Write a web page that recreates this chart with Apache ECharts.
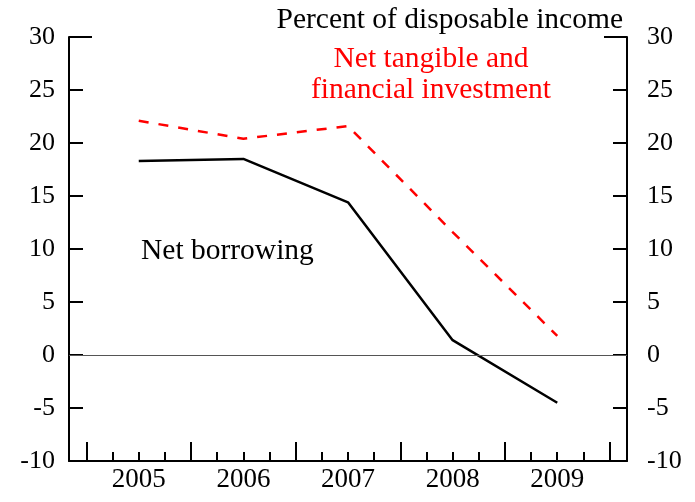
<!DOCTYPE html>
<html>
<head>
<meta charset="utf-8">
<script src="https://cdn.jsdelivr.net/npm/echarts@6/dist/echarts.min.js"></script>
<style>html,body{margin:0;padding:0;background:#fff}#c{width:695px;height:502px}</style>
</head>
<body>
<div id="c"></div>
<script>
// ---- data ----
var years = [2005, 2006, 2007, 2008, 2009];
var netBorrowing = [18.3, 18.5, 14.4, 1.4, -4.5];
var netInvestment = [22.1, 20.4, 21.6, 11.6, 1.8];
var yTicks = [-10, -5, 0, 5, 10, 15, 20, 25, 30];

var FONT = '"Liberation Serif", "Times New Roman", serif';
var xMin = years[0] - 1 / 6;
var xMax = years[years.length - 1] + 1 + 1 / 6;
var majorTicks = years.concat([years[years.length - 1] + 1]);
var labelPos = years.map(function (y) { return y + 0.5; });
var minorTicks = [];
years.forEach(function (y) { [0.25, 0.5, 0.75].forEach(function (q) { minorTicks.push(y + q); }); });

function pts(vals) { return vals.map(function (v, i) { return [years[i] + 0.5, v]; }); }

function yAx(pos, showLabel, tickVals, len, margin) {
  return {
    type: 'value', position: pos, min: yTicks[0], max: yTicks[yTicks.length - 1], interval: 5,
    axisLine: { show: showLabel, onZero: false, lineStyle: { color: '#000', width: 2 } },
    axisTick: { show: true, inside: true, length: len, customValues: tickVals, lineStyle: { color: '#000', width: 2 } },
    axisLabel: { show: showLabel, margin: margin, color: '#000', fontSize: 26, fontFamily: FONT },
    splitLine: { show: false }
  };
}

var chart = echarts.init(document.getElementById('c'), null, { renderer: 'canvas' });
chart.setOption({
  animation: false,
  grid: { left: 69, right: 68, top: 37, bottom: 41 },
  title: [
    { text: 'Percent of disposable income', right: 67, top: 0,
      textStyle: { fontFamily: FONT, fontSize: 29.5, fontWeight: 'normal', color: '#000' } },
    { text: 'Net tangible and\nfinancial investment', left: 426, top: 39, textAlign: 'center',
      textStyle: { fontFamily: FONT, fontSize: 29.5, fontWeight: 'normal', color: '#ff0000', lineHeight: 31, align: 'center' } },
    { text: 'Net borrowing', left: 136, top: 231,
      textStyle: { fontFamily: FONT, fontSize: 29.5, fontWeight: 'normal', color: '#000' } }
  ],
  xAxis: [
    { type: 'value', position: 'bottom', min: xMin, max: xMax,
      axisLine: { show: true, onZero: false, lineStyle: { color: '#000', width: 2 } },
      axisTick: { show: true, inside: true, length: 19, customValues: majorTicks, lineStyle: { color: '#000', width: 2 } },
      axisLabel: { show: true, customValues: labelPos, margin: 5, color: '#000', fontSize: 27, fontFamily: FONT,
        formatter: function (v) { return String(Math.floor(v)); } },
      splitLine: { show: false } },
    { type: 'value', position: 'bottom', min: xMin, max: xMax,
      axisLine: { show: false, onZero: false },
      axisTick: { show: true, inside: true, length: 9, customValues: minorTicks, lineStyle: { color: '#000', width: 2 } },
      axisLabel: { show: false }, splitLine: { show: false } }
  ],
  yAxis: [
    yAx('left', true, yTicks, 14, 14),
    yAx('right', true, yTicks, 14, 20),
    yAx('left', false, [yTicks[yTicks.length - 1]], 23, 0),
    yAx('right', false, [yTicks[yTicks.length - 1]], 23, 0)
  ],
  series: [
    { type: 'line', name: 'Net borrowing', data: pts(netBorrowing), xAxisIndex: 0, yAxisIndex: 0,
      symbol: 'none', lineStyle: { color: '#000', width: 2.5 },
      markLine: { silent: true, symbol: 'none', label: { show: false },
        lineStyle: { color: '#555', width: 1.2, type: 'solid' }, data: [{ yAxis: 0 }] } },
    { type: 'line', name: 'Net tangible and financial investment', data: pts(netInvestment), xAxisIndex: 0, yAxisIndex: 0,
      symbol: 'none', lineStyle: { color: '#ff0000', width: 2.5, type: [10, 10] } }
  ]
});
</script>
</body>
</html>
